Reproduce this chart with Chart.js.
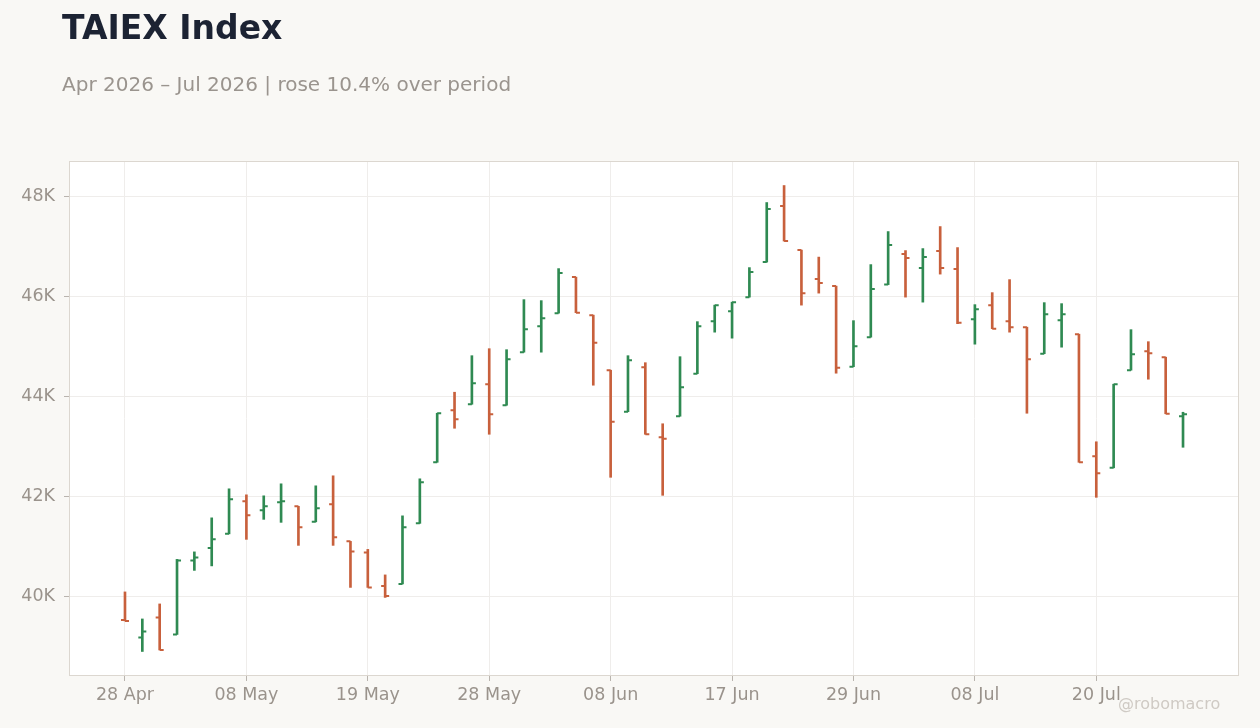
<!DOCTYPE html>
<html>
<head>
<meta charset="utf-8">
<script src="https://cdn.jsdelivr.net/npm/chart.js@4/dist/chart.umd.min.js"></script>
<style>
  html, body { margin: 0; padding: 0; background: #f9f8f5; }
  body { width: 1260px; height: 728px; position: relative; overflow: hidden; font-family: "DejaVu Sans", sans-serif; }
  #title { position: absolute; left: 62px; top: 8px; font-size: 33px; font-weight: bold; color: #1c2333; }
  #subtitle { position: absolute; left: 62px; top: 72px; font-size: 20px; color: #9a948e; }
  #credit { position: absolute; left: 1118px; top: 694px; font-size: 16px; color: #cfcac4; }
  canvas { position: absolute; left: 0; top: 0; }
</style>
</head>
<body>
<canvas id="chart" width="1260" height="728"></canvas>
<div id="title">TAIEX Index</div>
<div id="subtitle">Apr 2026 – Jul 2026 | rose 10.4% over period</div>
<div id="credit">@robomacro</div>
<script>
// trading days (TWSE), one bar per day
const dates = [
  "2026-04-28", "2026-04-29", "2026-04-30", "2026-05-04", "2026-05-05", "2026-05-06", "2026-05-07",
  "2026-05-08", "2026-05-11", "2026-05-12", "2026-05-13", "2026-05-14", "2026-05-15", "2026-05-18",
  "2026-05-19", "2026-05-20", "2026-05-21", "2026-05-22", "2026-05-25", "2026-05-26", "2026-05-27",
  "2026-05-28", "2026-05-29", "2026-06-01", "2026-06-02", "2026-06-03", "2026-06-04", "2026-06-05",
  "2026-06-08", "2026-06-09", "2026-06-10", "2026-06-11", "2026-06-12", "2026-06-15", "2026-06-16",
  "2026-06-17", "2026-06-18", "2026-06-22", "2026-06-23", "2026-06-24", "2026-06-25", "2026-06-26",
  "2026-06-29", "2026-06-30", "2026-07-01", "2026-07-02", "2026-07-03", "2026-07-06", "2026-07-07",
  "2026-07-08", "2026-07-09", "2026-07-10", "2026-07-13", "2026-07-14", "2026-07-15", "2026-07-16",
  "2026-07-20", "2026-07-21", "2026-07-22", "2026-07-23", "2026-07-24", "2026-07-27"
];

const opens = [
  39540, 39190, 39590, 39250, 40730, 40980, 41260, 41910, 41730, 41890, 41810, 41500, 41850, 41110,
  40890, 40220, 40260, 41470, 42690, 43730, 43850, 44250, 43830, 44890, 45410, 45670, 46390, 45630,
  44530, 43700, 44590, 43190, 43610, 44460, 45510, 45710, 45990, 46690, 47810, 46930, 46350, 46210,
  44600, 45190, 46240, 46850, 46570, 46910, 46550, 45550, 45830, 45510, 45390, 44860, 45530, 45250,
  42810, 42580, 44530, 44910, 44790, 43610
];
const highs = [
  40100, 39560, 39860, 40750, 40900, 41580, 42160, 42040, 42020, 42260, 41810, 42220, 42420, 41110,
  40950, 40440, 41620, 42360, 43670, 44090, 44820, 44960, 44940, 45940, 45920, 46560, 46390, 45630,
  44530, 44820, 44680, 43460, 44800, 45500, 45830, 45890, 46580, 47880, 48220, 46930, 46790, 46210,
  45520, 46640, 47300, 46920, 46960, 47400, 46980, 45840, 46080, 46340, 45390, 45880, 45860, 45250,
  43100, 44250, 45340, 45100, 44790, 43690
];
const lows = [
  39520, 38910, 38940, 39250, 40530, 40620, 41260, 41150, 41550, 41490, 41030, 41500, 41030, 40190,
  40190, 39990, 40260, 41470, 42690, 43370, 43850, 43250, 43830, 44890, 44890, 45670, 45680, 44230,
  42390, 43700, 43250, 42030, 43610, 44460, 45290, 45170, 45990, 46690, 47110, 45830, 46070, 44470,
  44600, 45190, 46240, 45990, 45890, 46450, 45460, 45050, 45360, 45290, 43670, 44860, 44990, 42690,
  41990, 42580, 44530, 44350, 43660, 42990
];
const closes = [
  39520, 39310, 38940, 40730, 40790, 41150, 41950, 41630, 41810, 41910, 41390, 41770, 41190, 40910,
  40190, 40020, 41390, 42290, 43670, 43550, 44270, 43650, 44750, 45350, 45570, 46470, 45680, 45080,
  43500, 44730, 43250, 43160, 44190, 45410, 45830, 45890, 46490, 47750, 47110, 46070, 46270, 44580,
  45010, 46150, 47030, 46770, 46790, 46570, 45480, 45750, 45360, 45390, 44750, 45650, 45650, 42690,
  42470, 44250, 44850, 44870, 43660, 43650
];

const xTickIdx = [0, 7, 14, 21, 28, 35, 42, 49, 56];
const yTicks = [40000, 42000, 44000, 46000, 48000];

const UP = "#2f8a52";
const DOWN = "#c8603c";
const MONTHS = ["Jan", "Feb", "Mar", "Apr", "May", "Jun", "Jul", "Aug", "Sep", "Oct", "Nov", "Dec"];

function fmtDate(iso) {
  const [y, m, d] = iso.split("-");
  return d + " " + MONTHS[Number(m) - 1];
}

const colors = opens.map((o, i) => (closes[i] >= o ? UP : DOWN));
const ranges = dates.map((d, i) => ({ x: i, y: [lows[i], highs[i]] }));

// white plot area + frame
const plotFrame = {
  id: "plotFrame",
  beforeDraw(chart) {
    const { ctx, chartArea: a } = chart;
    ctx.save();
    ctx.fillStyle = "#ffffff";
    ctx.fillRect(a.left, a.top, a.right - a.left, a.bottom - a.top);
    ctx.restore();
  },
  afterDraw(chart) {
    const { ctx, chartArea: a } = chart;
    ctx.save();
    ctx.strokeStyle = "#dcd7d0";
    ctx.lineWidth = 1;
    ctx.strokeRect(a.left - 0.5, a.top - 0.5, a.right - a.left + 1, a.bottom - a.top + 1);
    ctx.restore();
  }
};

// open tick on the left, close tick on the right
const ohlcTicks = {
  id: "ohlcTicks",
  afterDatasetsDraw(chart) {
    const { ctx, scales } = chart;
    ctx.save();
    ctx.lineWidth = 2;
    for (let i = 0; i < dates.length; i++) {
      const px = scales.x.getPixelForValue(i);
      const yo = scales.y.getPixelForValue(opens[i]);
      const yc = scales.y.getPixelForValue(closes[i]);
      ctx.strokeStyle = colors[i];
      ctx.beginPath();
      ctx.moveTo(px - 4, yo);
      ctx.lineTo(px, yo);
      ctx.moveTo(px, yc);
      ctx.lineTo(px + 4, yc);
      ctx.stroke();
    }
    ctx.restore();
  }
};

const tickFont = { family: "DejaVu Sans", size: 17.5 };

new Chart(document.getElementById("chart"), {
  type: "bar",
  data: {
    datasets: [{
      label: "TAIEX",
      data: ranges,
      backgroundColor: colors,
      borderWidth: 0,
      barThickness: 2,
      grouped: false
    }]
  },
  options: {
    responsive: false,
    animation: false,
    layout: { padding: { top: 162, right: 22, left: 0, bottom: 13 } },
    plugins: {
      legend: { display: false },
      tooltip: { enabled: false }
    },
    scales: {
      x: {
        type: "linear",
        offset: false,
        min: -3.17,
        max: 64.17,
        afterBuildTicks: (s) => { s.ticks = xTickIdx.map(v => ({ value: v })); },
        afterFit: (s) => { s.height = 40; },
        ticks: {
          autoSkip: false,
          maxRotation: 0,
          padding: 4,
          color: "#9a938c",
          font: tickFont,
          callback: (v) => fmtDate(dates[v])
        },
        grid: { offset: false, color: "#efedeb", tickColor: "#b9b4ae", tickLength: 6 },
        border: { display: false }
      },
      y: {
        min: 38440,
        max: 48690,
        afterBuildTicks: (s) => { s.ticks = yTicks.map(v => ({ value: v })); },
        afterFit: (s) => { s.width = 70; },
        ticks: {
          padding: 9,
          color: "#9a938c",
          font: tickFont,
          callback: (v) => (v / 1000) + "K"
        },
        grid: { color: "#efedeb", tickColor: "#b9b4ae", tickLength: 6 },
        border: { display: false }
      }
    }
  },
  plugins: [plotFrame, ohlcTicks]
});
</script>
</body>
</html>
